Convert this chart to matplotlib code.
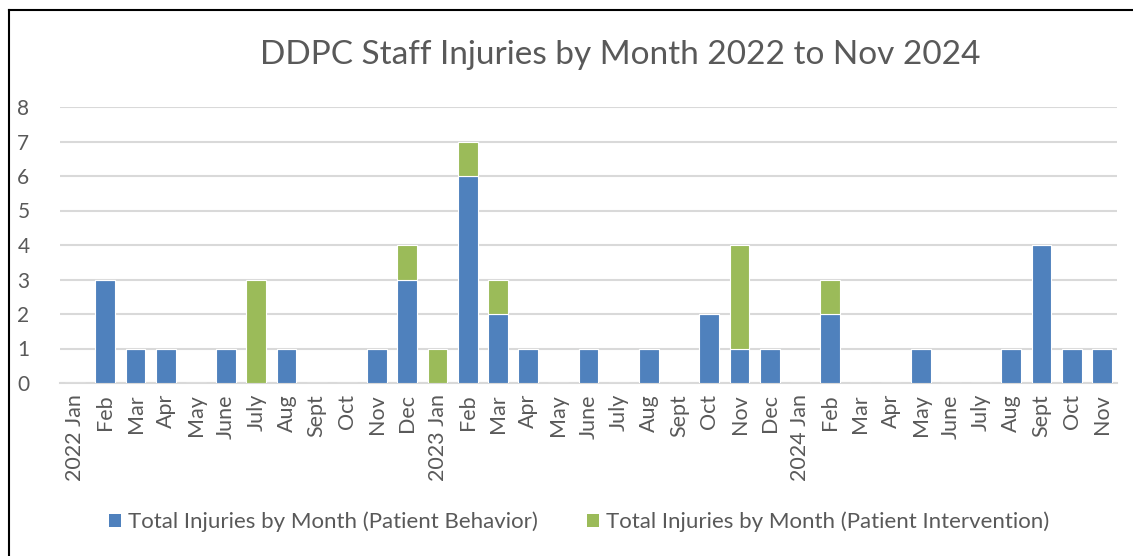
import matplotlib
matplotlib.use("Agg")
import matplotlib.pyplot as plt
from matplotlib.patches import Patch
from matplotlib.lines import Line2D
import numpy as np

months = ["2022 Jan", "Feb", "Mar", "Apr", "May", "June", "July", "Aug", "Sept", "Oct", "Nov", "Dec",
          "2023 Jan", "Feb", "Mar", "Apr", "May", "June", "July", "Aug", "Sept", "Oct", "Nov", "Dec",
          "2024 Jan", "Feb", "Mar", "Apr", "May", "June", "July", "Aug", "Sept", "Oct", "Nov"]
behavior = [0, 3, 1, 1, 0, 1, 0, 1, 0, 0, 1, 3,
            0, 6, 2, 1, 0, 1, 0, 1, 0, 2, 1, 1,
            0, 2, 0, 0, 1, 0, 0, 1, 4, 1, 1]
intervention = [0, 0, 0, 0, 0, 0, 3, 0, 0, 0, 0, 1,
                1, 1, 1, 0, 0, 0, 0, 0, 0, 0, 3, 0,
                0, 1, 0, 0, 0, 0, 0, 0, 0, 0, 0]
yticks = [0, 1, 2, 3, 4, 5, 6, 7, 8]

plt.rcParams['font.family'] = ['Lato', 'DejaVu Sans']
text_color = '#595959'
blue = '#4F81BD'
green = '#9BBB59'

fig = plt.figure(figsize=(11.33, 5.56), dpi=100)
ax = fig.add_axes([60/1133, 1-383/556, (1117-60)/1133, (383-107)/556])

x = np.arange(len(months))
ax.bar(x, behavior, width=0.66, color=blue, edgecolor='white', linewidth=0.8,
       label='Total Injuries by Month (Patient Behavior)', zorder=3)
ax.bar(x, intervention, bottom=behavior, width=0.66, color=green, edgecolor='white', linewidth=0.8,
       label='Total Injuries by Month (Patient Intervention)', zorder=3)

ax.set_xlim(-0.5, len(months) - 0.5)
ax.set_ylim(0, 8)
ax.set_yticks(yticks)
ax.set_yticklabels([str(v) for v in yticks], fontsize=15, color=text_color)
ax.yaxis.grid(True, color='#d9d9d9', linewidth=1.5, zorder=0)
ax.set_axisbelow(True)
for s in ['top', 'right', 'left']:
    ax.spines[s].set_visible(False)
ax.spines['bottom'].set_color('#d9d9d9')
ax.spines['bottom'].set_linewidth(1.5)
ax.tick_params(axis='both', length=0, pad=8)
ax.tick_params(axis='y', pad=22)
ax.set_xticks(x)
ax.set_xticklabels(months, rotation=90, fontsize=15.5, color=text_color, va='top', ha='center')

fig.text(620/1133, 1-55/556, 'DDPC Staff Injuries by Month 2022 to Nov 2024', ha='center', va='center',
         fontsize=24, color=text_color)

handles = [Patch(facecolor=blue, edgecolor='none'), Patch(facecolor=green, edgecolor='none')]
labels = ['Total Injuries by Month (Patient Behavior)', 'Total Injuries by Month (Patient Intervention)']
leg = fig.legend(handles, labels, loc='center', bbox_to_anchor=(579/1133, 1-522/556), ncol=2,
                 frameon=False, fontsize=16, handlelength=0.55, handleheight=0.55, handletextpad=0.3,
                 columnspacing=2.2, labelcolor=text_color)

# outer border (left and top visible)
fig.add_artist(Line2D([8.5/1133, 8.5/1133], [0, 1-9.5/556], transform=fig.transFigure, color='black', linewidth=1.5))
fig.add_artist(Line2D([8.5/1133, 1.0], [1-9.5/556, 1-9.5/556], transform=fig.transFigure, color='black', linewidth=1.5))

fig.savefig('out.png', dpi=100)
